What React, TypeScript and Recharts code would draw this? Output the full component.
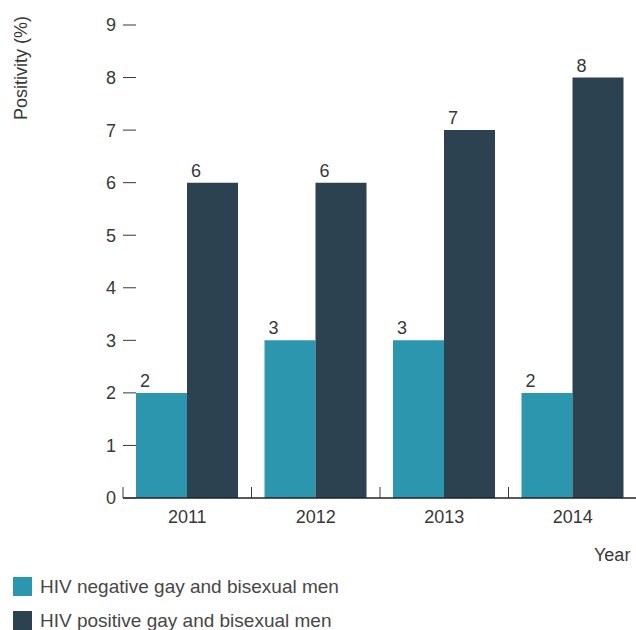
import { BarChart, Bar, XAxis, YAxis, Legend, LabelList, Label } from "recharts";

const years = ["2011", "2012", "2013", "2014"];
const hivNegative = [2, 3, 3, 2];
const hivPositive = [6, 6, 7, 8];
const yTicks = [0, 1, 2, 3, 4, 5, 6, 7, 8, 9];

const seriesNames = {
  negative: "HIV negative gay and bisexual men",
  positive: "HIV positive gay and bisexual men",
};

const data = years.map((year, i) => ({
  year,
  negative: hivNegative[i],
  positive: hivPositive[i],
}));

const CHART_W = 700;
const CHART_H = 640;
const Y_AXIS_W = 123;
const MARGIN = { top: 25, right: 63, bottom: 10, left: 0 };
const BAND_W = (CHART_W - MARGIN.left - MARGIN.right - Y_AXIS_W) / years.length;

const FONT = '"Liberation Sans", Arial, Helvetica, sans-serif';
const TEXT = "#383838";
const TEAL = "#2b96ae";
const NAVY = "#2c4251";

function YTick(props: any) {
  const { x, y, payload } = props;
  return (
    <g>
      <text x={x - 7} y={y} dy="0.36em" textAnchor="end" fontSize={18} fill={TEXT} fontFamily={FONT}>
        {payload.value}
      </text>
      <line x1={x} x2={x + 13} y1={y} y2={y} stroke={TEXT} strokeWidth={1} />
    </g>
  );
}

// category ticks: label at band centre, short upward tick at band's left edge
function XTick(props: any) {
  const { x, y, payload } = props;
  const left = x - BAND_W / 2;
  return (
    <g>
      <line x1={left} x2={left} y1={y - 11} y2={y} stroke={TEXT} strokeWidth={1} />
      <text x={x} y={y + 25} textAnchor="middle" fontSize={18} fill={TEXT} fontFamily={FONT}>
        {payload.value}
      </text>
    </g>
  );
}

function ValueLabel(props: any) {
  const { x, y, value } = props;
  return (
    <text x={x + 4} y={y - 6} fontSize={18} fill={TEXT} fontFamily={FONT}>
      {value}
    </text>
  );
}

function LegendBox(props: any) {
  const items = props.payload || [];
  return (
    <div style={{ height: 60, paddingLeft: 13, paddingTop: 7, boxSizing: "border-box", fontFamily: FONT }}>
      {items.map((item: any) => (
        <div key={item.value} style={{ display: "flex", alignItems: "center", height: 19, marginBottom: 15 }}>
          <span style={{ width: 19, height: 19, background: item.color, display: "inline-block", marginRight: 8 }} />
          <span style={{ fontSize: 19, lineHeight: "19px", color: "#474747" }}>{item.value}</span>
        </div>
      ))}
    </div>
  );
}

export default function App() {
  return (
    <div style={{ position: "absolute", left: 0, top: 0, width: 636, height: 630, overflow: "hidden", background: "#fff" }}>
      <BarChart width={CHART_W} height={CHART_H} data={data} margin={MARGIN} barCategoryGap={13} barGap={0}>
        <YAxis
          width={Y_AXIS_W}
          domain={[0, 9]}
          ticks={yTicks}
          interval={0}
          axisLine={false}
          tickLine={false}
          tickSize={0}
          tickMargin={0}
          tick={<YTick />}
        >
          <Label
            content={(p: any) => {
              const vb = p.viewBox;
              const cx = vb.x + 27;
              const cy = vb.y + 43;
              return (
                <text
                  x={cx}
                  y={cy}
                  textAnchor="middle"
                  transform={`rotate(-90, ${cx}, ${cy})`}
                  fontSize={18}
                  fill={TEXT}
                  fontFamily={FONT}
                >
                  Positivity (%)
                </text>
              );
            }}
          />
        </YAxis>
        <XAxis
          dataKey="year"
          height={72}
          interval={0}
          axisLine={{ stroke: "#222", strokeWidth: 1.5 }}
          tickLine={false}
          tickSize={0}
          tickMargin={0}
          tick={<XTick />}
        >
          <Label
            content={(p: any) => {
              const vb = p.viewBox;
              return (
                <text x={vb.x + vb.width - 43} y={vb.y + 63} fontSize={18} fill={TEXT} fontFamily={FONT}>
                  Year
                </text>
              );
            }}
          />
        </XAxis>
        <Legend layout="horizontal" verticalAlign="bottom" align="left" content={<LegendBox />} />
        <Bar dataKey="negative" name={seriesNames.negative} fill={TEAL} isAnimationActive={false}>
          <LabelList dataKey="negative" content={<ValueLabel />} />
        </Bar>
        <Bar dataKey="positive" name={seriesNames.positive} fill={NAVY} isAnimationActive={false}>
          <LabelList dataKey="positive" content={<ValueLabel />} />
        </Bar>
      </BarChart>
    </div>
  );
}
